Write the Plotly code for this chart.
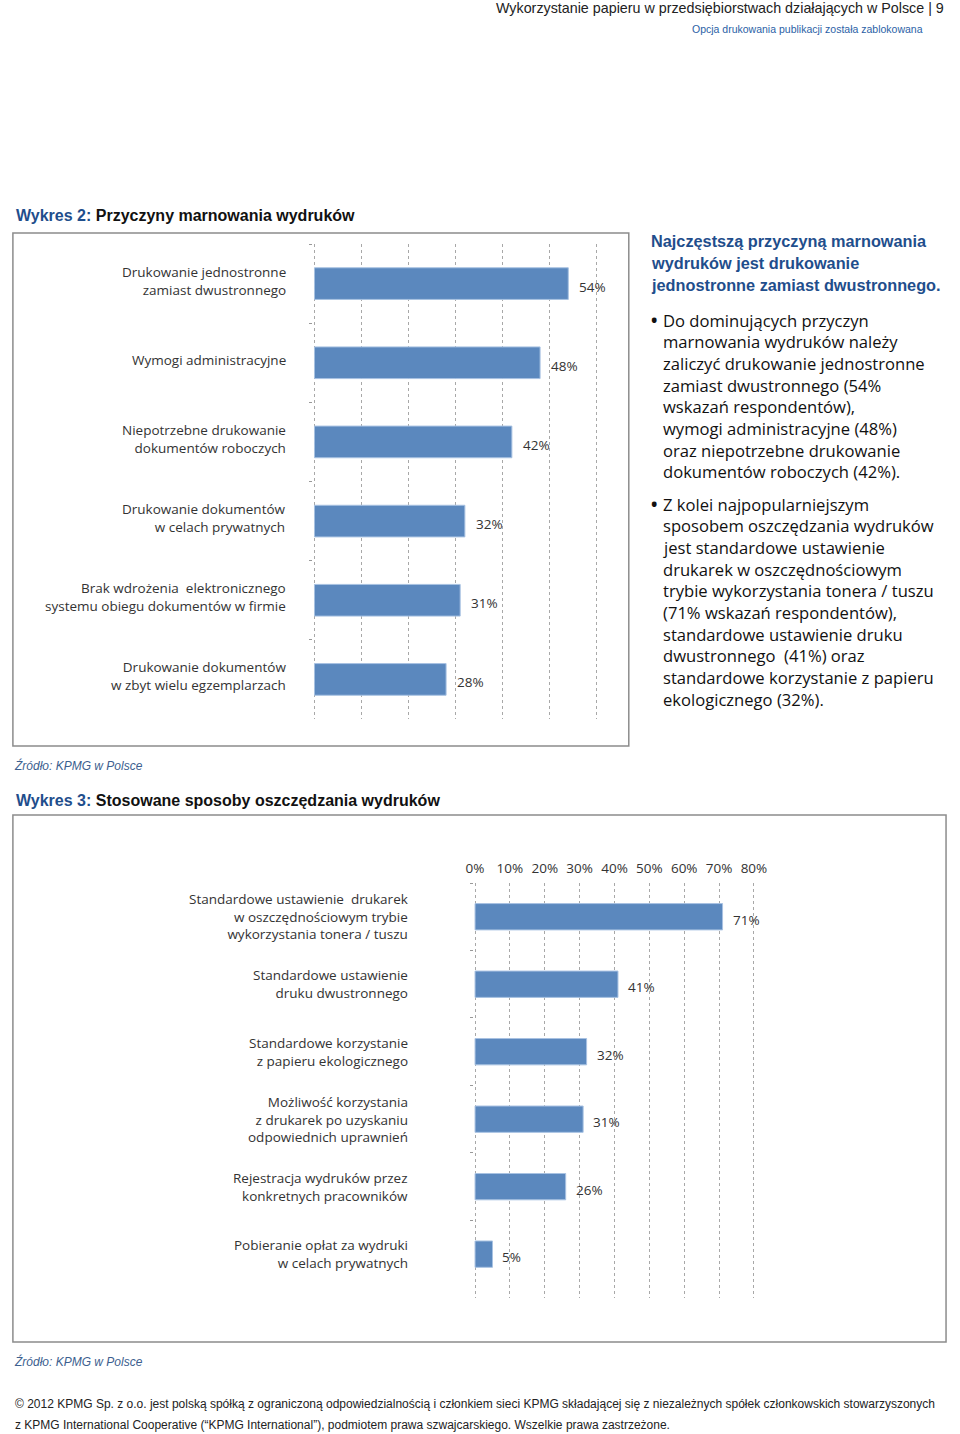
import plotly.graph_objects as go

W, H = 960, 1434

# ---------------- data ----------------
reasons = [
    "Drukowanie jednostronne<br>zamiast dwustronnego",
    "Wymogi administracyjne",
    "Niepotrzebne drukowanie<br>dokumentów roboczych",
    "Drukowanie dokumentów<br>w celach prywatnych",
    "Brak wdrożenia  elektronicznego<br>systemu obiegu dokumentów w firmie",
    "Drukowanie dokumentów<br>w zbyt wielu egzemplarzach",
]
reason_values = [54, 48, 42, 32, 31, 28]

methods = [
    "Standardowe ustawienie  drukarek<br>w oszczędnościowym trybie<br>wykorzystania tonera / tuszu",
    "Standardowe ustawienie<br>druku dwustronnego",
    "Standardowe korzystanie<br>z papieru ekologicznego",
    "Możliwość korzystania<br>z drukarek po uzyskaniu<br>odpowiednich uprawnień",
    "Rejestracja wydruków przez<br>konkretnych pracowników",
    "Pobieranie opłat za wydruki<br>w celach prywatnych",
]
method_values = [71, 41, 32, 31, 26, 5]

x_ticks2 = [0, 10, 20, 30, 40, 50, 60, 70, 80]

panel_title = [
    "Najczęstszą przyczyną marnowania",
    "wydruków jest drukowanie",
    "jednostronne zamiast dwustronnego.",
]
bullet1 = [
    "Do dominujących przyczyn",
    "marnowania wydruków należy",
    "zaliczyć drukowanie jednostronne",
    "zamiast dwustronnego (54%",
    "wskazań respondentów),",
    "wymogi administracyjne (48%)",
    "oraz niepotrzebne drukowanie",
    "dokumentów roboczych (42%).",
]
bullet2 = [
    "Z kolei najpopularniejszym",
    "sposobem oszczędzania wydruków",
    "jest standardowe ustawienie",
    "drukarek w oszczędnościowym",
    "trybie wykorzystania tonera / tuszu",
    "(71% wskazań respondentów),",
    "standardowe ustawienie druku",
    "dwustronnego  (41%) oraz",
    "standardowe korzystanie z papieru",
    "ekologicznego (32%).",
]

# ---------------- style ----------------
BAR = "#5B88BE"
BAR_EDGE = "#A8C2E2"
DARKBLUE = "#1F4E8C"
TXT = "#333333"
GRID = "#A8A8A8"
LABEL_FONT = "Open Sans"
HEAD_FONT = "Liberation Sans"


def px(x):
    return x / W


def py(y):
    return 1 - y / H


fig = go.Figure()

fig.add_trace(go.Bar(
    x=reason_values, y=reasons, orientation="h",
    marker=dict(color=BAR, line=dict(color=BAR_EDGE, width=1)),
    width=0.4, xaxis="x", yaxis="y", hoverinfo="skip",
))
fig.add_trace(go.Bar(
    x=method_values, y=methods, orientation="h",
    marker=dict(color=BAR, line=dict(color=BAR_EDGE, width=1)),
    width=0.39, xaxis="x2", yaxis="y2", hoverinfo="skip",
))

# axis geometry (pixels)
k1 = 4.8       # px per percent, chart 1
x0_1 = 313
r1 = [-0.4, 60.4]
k2 = 3.56
x0_2 = 477
r2 = [-0.4, 80.4]

annotations = []

for cat in reasons:
    annotations.append(dict(
        x=px(286), xref="paper", xanchor="right", y=cat, yref="y", yanchor="middle",
        yshift=3, text=cat, showarrow=False, align="right",
        font=dict(family=LABEL_FONT, size=13.5, color=TXT)))
for cat, v in zip(reasons, reason_values):
    annotations.append(dict(
        x=v, xref="x", y=cat, yref="y", xanchor="left", yanchor="middle",
        xshift=9, yshift=-3, text=f"{v}%", showarrow=False,
        font=dict(family=LABEL_FONT, size=13.5, color=TXT)))

for cat in methods:
    annotations.append(dict(
        x=px(411), xref="paper", xanchor="right", y=cat, yref="y2", yanchor="middle",
        text=cat, showarrow=False, align="right",
        font=dict(family=LABEL_FONT, size=13.5, color=TXT)))
for cat, v in zip(methods, method_values):
    annotations.append(dict(
        x=v, xref="x2", y=cat, yref="y2", xanchor="left", yanchor="middle",
        xshift=8, yshift=-3, text=f"{v}%", showarrow=False,
        font=dict(family=LABEL_FONT, size=13.5, color=TXT)))


def text_at(x, y, text, size, color=TXT, family=LABEL_FONT, anchor="left"):
    annotations.append(dict(
        x=px(x), y=py(y), xref="paper", yref="paper", xanchor=anchor, yanchor="middle",
        text=text, showarrow=False, font=dict(family=family, size=size, color=color)))


# header
text_at(958, 8, "Wykorzystanie papieru w przedsiębiorstwach działających w Polsce | 9", 14.3,
        color="#222", family=HEAD_FONT, anchor="right")
text_at(937, 29, "Opcja drukowania publikacji została zablokowana", 10.5,
        color="#2B5FA6", family=HEAD_FONT, anchor="right")

# titles
text_at(6, 216, f"<b><span style='color:{DARKBLUE}'>Wykres 2:</span> Przyczyny marnowania wydruków</b>",
        16, color="#111", family=HEAD_FONT)
text_at(6, 800, f"<b><span style='color:{DARKBLUE}'>Wykres 3:</span> Stosowane sposoby oszczędzania wydruków</b>",
        16, color="#111", family=HEAD_FONT)

# sources
text_at(4, 765, "<i>Źródło: KPMG w Polsce</i>", 12, color="#3D5F8F", family=HEAD_FONT)
text_at(4, 1361, "<i>Źródło: KPMG w Polsce</i>", 12, color="#3D5F8F", family=HEAD_FONT)

# right panel
for i, line in enumerate(panel_title):
    text_at(655, 241 + i * 22, f"<b>{line}</b>", 16.3, color=DARKBLUE, family=HEAD_FONT)
text_at(655, 320, "<b>•</b>", 17, color="#111")
for i, line in enumerate(bullet1):
    text_at(667, 320 + i * 21.7, line, 16.6, color="#111")
text_at(655, 504, "<b>•</b>", 17, color="#111")
for i, line in enumerate(bullet2):
    text_at(667, 504 + i * 21.7, line, 16.6, color="#111")

# footer
text_at(5, 1404, "© 2012 KPMG Sp. z o.o. jest polską spółką z ograniczoną odpowiedzialnością i członkiem sieci KPMG "
        "składającej się z niezależnych spółek członkowskich stowarzyszonych", 12, color="#222", family=HEAD_FONT)
text_at(5, 1425, "z KPMG International Cooperative (“KPMG International”), podmiotem prawa szwajcarskiego. "
        "Wszelkie prawa zastrzeżone.", 12, color="#222", family=HEAD_FONT)

shapes = [
    dict(type="rect", xref="paper", yref="paper", x0=px(5), x1=px(634), y0=py(746), y1=py(233),
         line=dict(color="#8C8C8C", width=1.5)),
    dict(type="rect", xref="paper", yref="paper", x0=px(5), x1=px(958), y0=py(1342), y1=py(815),
         line=dict(color="#8C8C8C", width=1.5)),
]

gridstyle = dict(showgrid=True, gridcolor=GRID, griddash="dot", gridwidth=1, zeroline=False,
                 showline=False, ticks="", fixedrange=True)
ystyle = dict(type="category", showgrid=False, zeroline=False, showline=False, showticklabels=False,
              ticks="outside", tickson="boundaries", ticklen=3, tickcolor="#999", tickwidth=1,
              fixedrange=True)

fig.update_layout(
    width=W, height=H, autosize=False, margin=dict(l=0, r=0, t=0, b=0, pad=0),
    paper_bgcolor="white", plot_bgcolor="rgba(0,0,0,0)", showlegend=False,
    xaxis=dict(domain=[px(x0_1 + r1[0] * k1), px(x0_1 + r1[1] * k1)], range=r1,
               tickvals=[0, 10, 20, 30, 40, 50, 60], showticklabels=False, anchor="y", **gridstyle),
    yaxis=dict(domain=[py(719), py(244)], range=[5.5, -0.5], categoryorder="array",
               categoryarray=reasons, anchor="x", **ystyle),
    xaxis2=dict(domain=[px(x0_2 + r2[0] * k2), px(x0_2 + r2[1] * k2)], range=r2,
                tickvals=x_ticks2, ticktext=[f"{t}%" for t in x_ticks2], side="top",
                showticklabels=True, tickfont=dict(family=LABEL_FONT, size=13.5, color=TXT),
                ticklabelstandoff=6, anchor="y2", **gridstyle),
    yaxis2=dict(domain=[py(1298), py(883)], range=[5.65, -0.5], categoryorder="array",
                categoryarray=methods, anchor="x2", **ystyle),
    annotations=annotations, shapes=shapes,
)

# remove the browser's default page margin so the 960x1434 figure fills the window exactly
fig.write_html("out.html", config={"displayModeBar": False},
               post_script="document.body.style.margin='0px';")
